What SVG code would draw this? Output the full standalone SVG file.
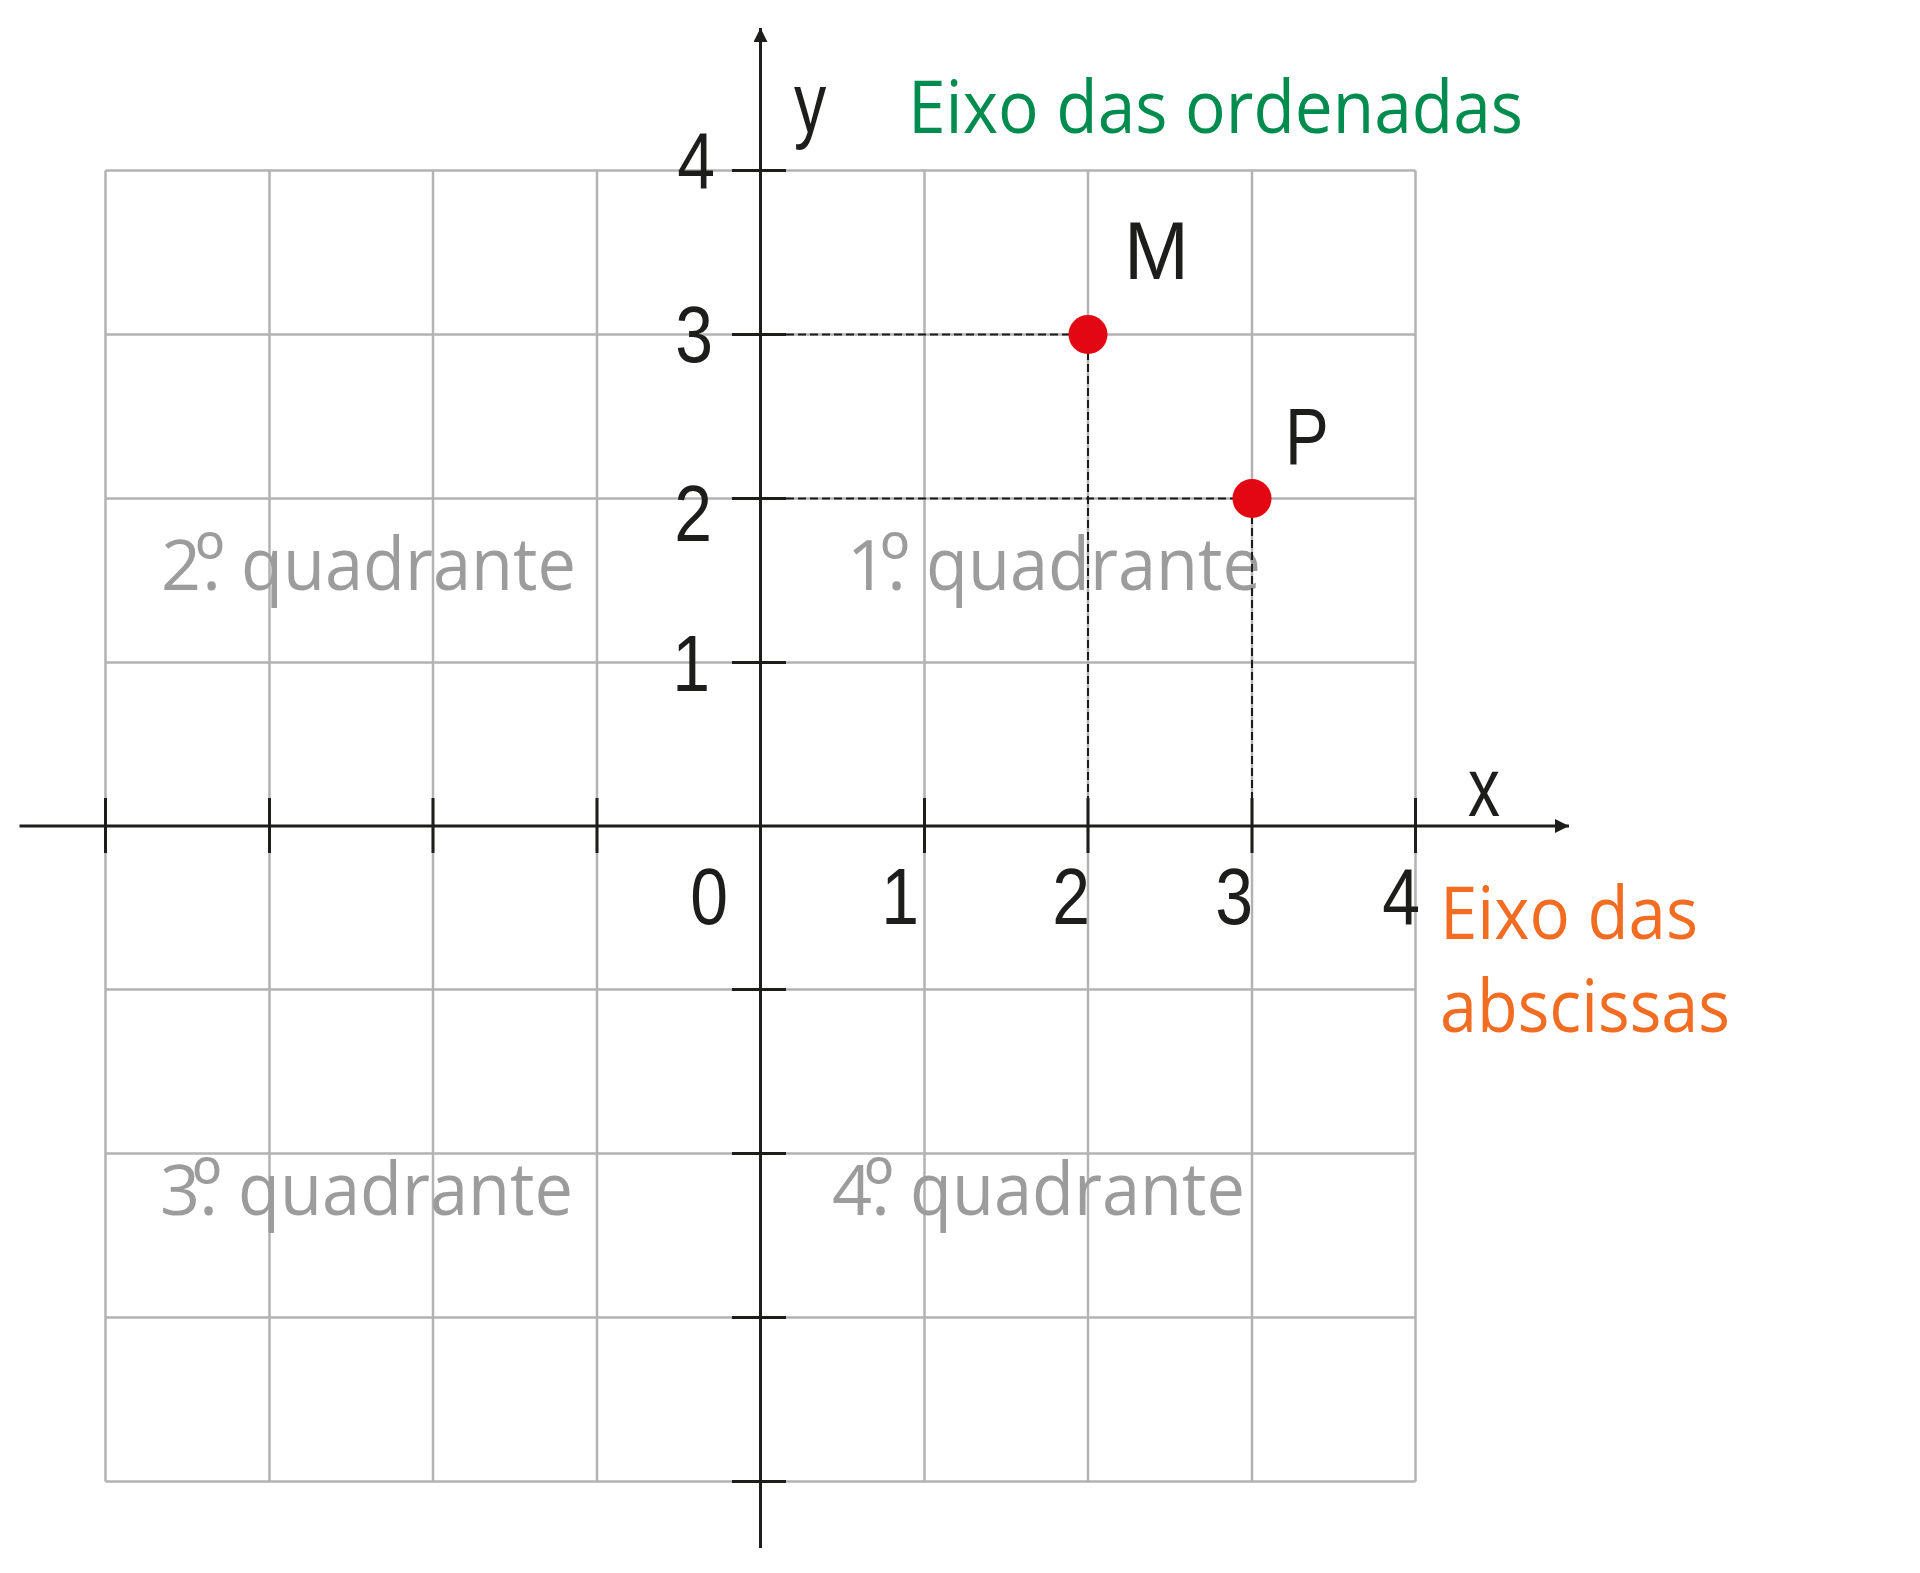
<svg xmlns="http://www.w3.org/2000/svg" width="1920" height="1573" viewBox="0 0 1920 1573">
<style>
.grid{stroke:#b3b3b3;stroke-width:2.5;fill:none}
.axis{stroke:#1d1d1b;stroke-width:3;fill:none}
.tick{stroke:#1d1d1b;stroke-width:3;fill:none}
.dash{stroke:#1d1d1b;stroke-width:2;stroke-dasharray:8 4;fill:none}
.num{font-family:"Liberation Sans",Arial,sans-serif;font-size:79px;fill:#1d1d1b}
.quad{font-family:"Open Sans","Noto Sans",sans-serif;font-size:73px;fill:#9d9c9c}
.dig{font-size:70px}
.ord{font-size:80px}
.green{font-family:"Open Sans","Noto Sans",sans-serif;font-size:74px;fill:#008c4f}
.orange{font-family:"Open Sans","Noto Sans",sans-serif;font-size:74px;fill:#f26c22}
.pt{fill:#e30613}
</style>
<defs>
<marker id="arr" markerWidth="14" markerHeight="14" refX="14" refY="7" orient="auto" markerUnits="userSpaceOnUse">
<path d="M0,0 L14,7 L0,14 Z" fill="#1d1d1b"/>
</marker>
</defs>
<rect width="1920" height="1573" fill="#ffffff"/>
<g id="grid" class="grid">
<path d="M105.5,170.5V1481.5M269.5,170.5V1481.5M433,170.5V1481.5M597,170.5V1481.5M924.5,170.5V1481.5M1088,170.5V1481.5M1252,170.5V1481.5M1415.5,170.5V1481.5"/>
<path d="M105.5,170.5H1415.5M105.5,334.5H1415.5M105.5,498.5H1415.5M105.5,662.5H1415.5M105.5,989.5H1415.5M105.5,1153.5H1415.5M105.5,1317.5H1415.5M105.5,1481.5H1415.5"/>
</g>
<g id="quadrants">
<text class="quad" y="590"><tspan class="dig" x="161">2</tspan><tspan x="202">.</tspan><tspan class="ord" x="195">º</tspan><tspan x="241" textLength="335" lengthAdjust="spacingAndGlyphs">quadrante</tspan></text>
<text class="quad" y="590"><tspan class="dig" x="847">1</tspan><tspan x="887">.</tspan><tspan class="ord" x="880">º</tspan><tspan x="926" textLength="335" lengthAdjust="spacingAndGlyphs">quadrante</tspan></text>
<text class="quad" y="1215"><tspan class="dig" x="160">3</tspan><tspan x="199">.</tspan><tspan class="ord" x="192">º</tspan><tspan x="238" textLength="335" lengthAdjust="spacingAndGlyphs">quadrante</tspan></text>
<text class="quad" y="1215"><tspan class="dig" x="832">4</tspan><tspan x="871">.</tspan><tspan class="ord" x="864">º</tspan><tspan x="910" textLength="335" lengthAdjust="spacingAndGlyphs">quadrante</tspan></text>
</g>
<g id="connectors">
<line class="dash" x1="786" y1="334.5" x2="1070" y2="334.5"/>
<line class="dash" x1="786" y1="498.5" x2="1234" y2="498.5"/>
<line class="dash" x1="1088" y1="352" x2="1088" y2="826"/>
<line class="dash" x1="1252" y1="516" x2="1252" y2="826"/>
</g>
<g id="axes">
<line class="axis" x1="19.5" y1="826" x2="1569" y2="826" marker-end="url(#arr)"/>
<line class="axis" x1="760.5" y1="1548" x2="760.5" y2="28" marker-end="url(#arr)"/>
<path class="tick" d="M732,170.5H786M732,334.5H786M732,498.5H786M732,662.5H786M732,989.5H786M732,1153.5H786M732,1317.5H786M732,1481.5H786"/>
<path class="tick" d="M105.5,798V853M269.5,798V853M433,798V853M597,798V853M924.5,798V853M1088,798V853M1252,798V853M1415.5,798V853"/>
</g>
<g id="y-labels">
<text class="num" text-anchor="end" transform="translate(715,188) scale(0.86,1)">4</text>
<text class="num" text-anchor="end" transform="translate(713,362) scale(0.86,1)">3</text>
<text class="num" text-anchor="end" transform="translate(712,541) scale(0.86,1)">2</text>
<text class="num" text-anchor="end" transform="translate(710,691) scale(0.86,1)">1</text>
</g>
<g id="x-labels">
<text class="num" text-anchor="end" transform="translate(728,924) scale(0.86,1)">0</text>
<text class="num" text-anchor="end" transform="translate(919,924) scale(0.86,1)">1</text>
<text class="num" text-anchor="end" transform="translate(1090,924) scale(0.86,1)">2</text>
<text class="num" text-anchor="end" transform="translate(1253,924) scale(0.86,1)">3</text>
<text class="num" text-anchor="end" transform="translate(1420,924) scale(0.86,1)">4</text>
</g>
<g id="axis-names">
<text class="num" style="font-size:85px" transform="translate(794,132) scale(0.76,1)">y</text>
<text class="num" style="font-size:83px" transform="translate(1468,816) scale(0.77,1)">x</text>
</g>
<g id="point-M">
<circle class="pt" cx="1088" cy="334.5" r="19.5"/>
<text class="num" style="font-size:82px" transform="translate(1124,279) scale(0.95,1)">M</text>
</g>
<g id="point-P">
<circle class="pt" cx="1252" cy="498.5" r="19.5"/>
<text class="num" style="font-size:80px" transform="translate(1285,464) scale(0.82,1)">P</text>
</g>
<g id="label-ordenadas">
<text class="green" x="908" y="132.5" textLength="615" lengthAdjust="spacingAndGlyphs">Eixo das ordenadas</text>
</g>
<g id="label-abscissas">
<text class="orange" x="1440" y="938.5" textLength="258" lengthAdjust="spacingAndGlyphs">Eixo das</text>
<text class="orange" x="1440" y="1031.5" textLength="290" lengthAdjust="spacingAndGlyphs">abscissas</text>
</g>
</svg>
